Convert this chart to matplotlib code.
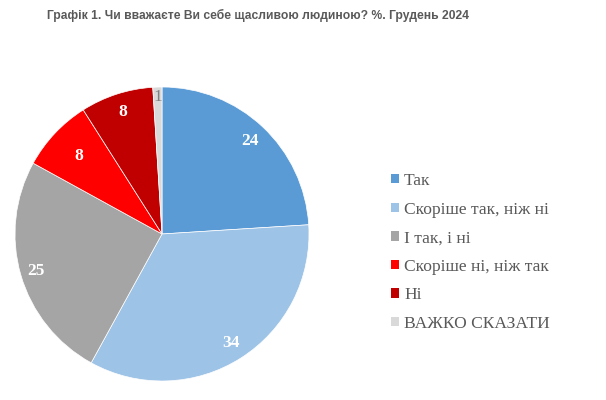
import matplotlib
matplotlib.use("Agg")
import matplotlib.pyplot as plt
import numpy as np

categories = ["Так", "Скоріше так, ніж ні", "І так, і ні", "Скоріше ні, ніж так", "Ні", "ВАЖКО СКАЗАТИ"]
values = [24, 34, 25, 8, 8, 1]
colors = ["#5B9BD5", "#9DC3E6", "#A5A5A5", "#FF0000", "#C00000", "#D9D9D9"]
label_colors = ["white", "white", "white", "white", "white", "#7F7F7F"]
label_weights = ["bold", "bold", "bold", "bold", "bold", "normal"]
label_radii = [0.87, 0.88, 0.89, 0.78, 0.87, 0.93]
title = "Графік 1. Чи вважаєте Ви себе щасливою людиною? %. Грудень 2024"

W, H = 606, 400
fig = plt.figure(figsize=(W / 100, H / 100), dpi=100)
fig.patch.set_facecolor("white")

cx, cy, r = 162, 234, 147
ax = fig.add_axes([(cx - r) / W, (H - cy - r) / H, 2 * r / W, 2 * r / H])
wedges, _ = ax.pie(values, colors=colors, startangle=90, counterclock=False,
                   radius=1, wedgeprops=dict(edgecolor="white", linewidth=0.5))
ax.set_xlim(-1, 1)
ax.set_ylim(-1, 1)
ax.set_aspect("equal")
ax.axis("off")

for w, v, lc, lw, lr in zip(wedges, values, label_colors, label_weights, label_radii):
    ang = np.deg2rad((w.theta1 + w.theta2) / 2)
    ax.text(lr * np.cos(ang), lr * np.sin(ang), str(v), ha="center", va="center",
            color=lc, fontweight=lw, fontsize=12.5, family="Liberation Serif")

fig.text(258 / W, 1 - 15 / H, title, ha="center", va="center", fontsize=8.7,
         fontweight="bold", color="#595959", family="Liberation Sans")

handles = [plt.Rectangle((0, 0), 1, 1, facecolor=c, edgecolor="none") for c in colors]
leg = fig.legend(handles, categories, loc="upper left", bbox_to_anchor=(391 / W, 1 - 173 / H),
                 frameon=False, prop=dict(family="Liberation Serif", size=12.6),
                 labelcolor="#595959", handlelength=0.45, handleheight=0.45,
                 handletextpad=0.3, labelspacing=0.72, borderaxespad=0, borderpad=0)

fig.savefig("out.png", dpi=100, facecolor="white")
